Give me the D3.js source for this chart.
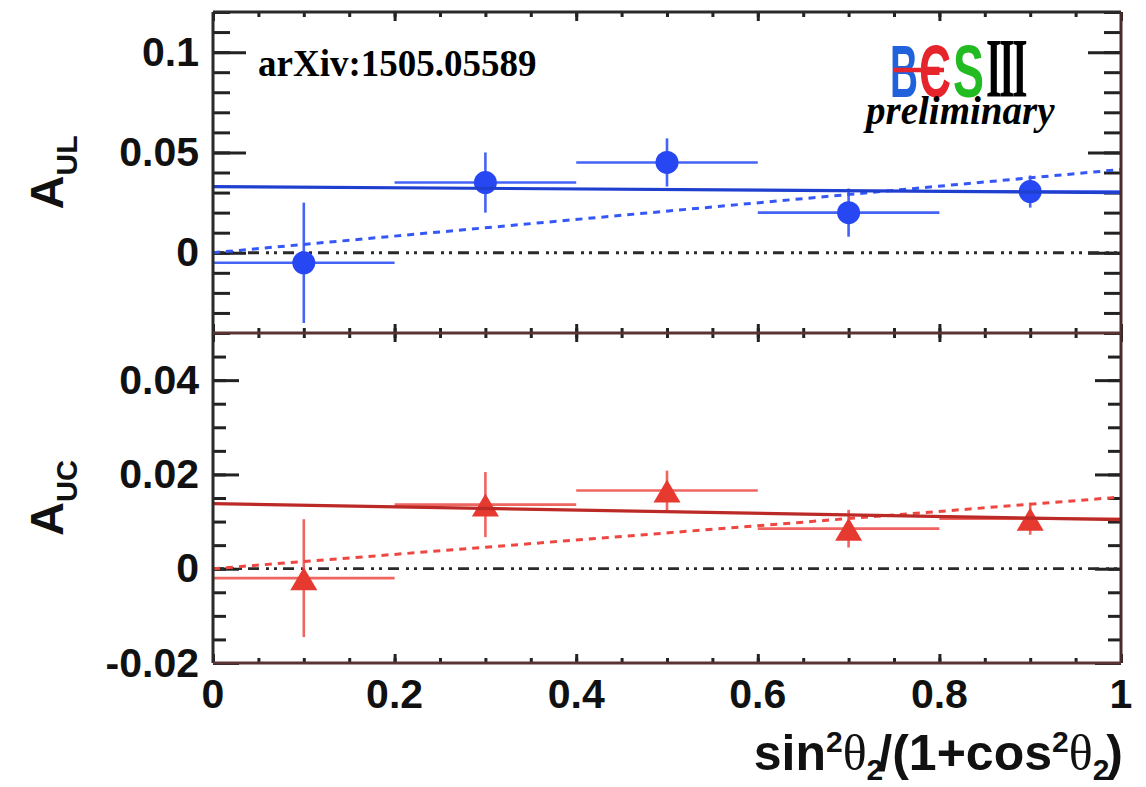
<!DOCTYPE html>
<html>
<head>
<meta charset="utf-8">
<script src="https://cdn.jsdelivr.net/npm/d3@7"></script>
<style>
  body { margin: 0; background: #fff; }
  svg { display: block; }
  text { font-family: "Liberation Sans", Arial, sans-serif; }
</style>
</head>
<body>
<div id="chart"></div>
<script>
// bin centres and half widths
var xBin = [0.1, 0.3, 0.5, 0.7, 0.9];
var xHalf = [0.1, 0.1, 0.1, 0.1, 0.1];

// A_UL (top panel)
var aUL = [-0.005, 0.035, 0.045, 0.020, 0.0305];
var aULErr = [0.030, 0.015, 0.012, 0.012, 0.008];
var fitULconst = [0.033, 0.030];   // solid, at x=0 and x=1
var fitULprop = [0.0, 0.0415];     // dashed

// A_UC (bottom panel)
var aUC = [-0.002, 0.0136, 0.0166, 0.0085, 0.0106];
var aUCErr = [0.0125, 0.0069, 0.0042, 0.004, 0.0034];
var fitUCconst = [0.0138, 0.0104];
var fitUCprop = [0.0, 0.0152];

var xEnds = [0, 1];
var xTickLabels = [0, 0.2, 0.4, 0.6, 0.8, 1];
var topTickLabels = [0, 0.05, 0.1];
var botTickLabels = [-0.02, 0, 0.02, 0.04];

var W = 1146, H = 787;
var X0 = 213, X1 = 1121;

var svg = d3.select("#chart").append("svg")
    .attr("width", W)
    .attr("height", H);

var x = d3.scaleLinear().domain([0, 1]).range([X0, X1]);

var panels = [
  { y0: 12, y1: 333, domain: [-0.04, 0.12], major: topTickLabels, minorStep: 0.01,
    majLen: 33, minLen: 17, vals: aUL, errs: aULErr, cnst: fitULconst, prop: fitULprop,
    color: "#2747f2", errColor: "#4563f6", fitColor: "#1f3fcf", dashColor: "#3657f7",
    marker: "circle", title: "A", sub: "UL", subSize: 30 },
  { y0: 333, y1: 663, domain: [-0.02, 0.05], major: botTickLabels, minorStep: 0.005,
    majLen: 26, minLen: 13, vals: aUC, errs: aUCErr, cnst: fitUCconst, prop: fitUCprop,
    color: "#e63a30", errColor: "#ef6560", fitColor: "#bb2a26", dashColor: "#ee4640",
    marker: "triangle", title: "A", sub: "UC", subSize: 29 }
];

function fmt(d) { return d === 0 ? "0" : String(d); }

panels.forEach(function(p, i) {
  var y = d3.scaleLinear().domain(p.domain).range([p.y1, p.y0]);
  var g = svg.append("g");

  var minors = d3.range(Math.ceil(p.domain[0] / p.minorStep), Math.floor(p.domain[1] / p.minorStep + 1e-6) + 1)
      .map(function(k) { return +(k * p.minorStep).toFixed(4); });

  // y minor ticks, left and right (inward)
  g.append("g").attr("transform", "translate(" + X0 + ",0)")
    .call(d3.axisLeft(y).tickValues(minors).tickSizeInner(-p.minLen).tickSizeOuter(0).tickFormat(""));
  g.append("g").attr("transform", "translate(" + X1 + ",0)")
    .call(d3.axisRight(y).tickValues(minors).tickSizeInner(-p.minLen).tickSizeOuter(0).tickFormat(""));
  // y major ticks with labels
  g.append("g").attr("class", "ylab").attr("transform", "translate(" + X0 + ",0)")
    .call(d3.axisLeft(y).tickValues(p.major).tickSizeInner(-p.majLen).tickSizeOuter(0).tickPadding(14).tickFormat(fmt));
  g.append("g").attr("transform", "translate(" + X1 + ",0)")
    .call(d3.axisRight(y).tickValues(p.major).tickSizeInner(-p.majLen).tickSizeOuter(0).tickFormat(""));

  // x ticks top and bottom of the panel (inward, short)
  var xMin = d3.range(0, 21).map(function(k) { return k * 0.05; });
  g.append("g").attr("transform", "translate(0," + p.y1 + ")")
    .call(d3.axisBottom(x).tickValues(xMin).tickSizeInner(-5).tickSizeOuter(0).tickFormat(""));
  g.append("g").attr("transform", "translate(0," + p.y1 + ")")
    .call(d3.axisBottom(x).tickValues(xTickLabels).tickSizeInner(-9).tickSizeOuter(0).tickFormat(""));
  g.append("g").attr("transform", "translate(0," + p.y0 + ")")
    .call(d3.axisTop(x).tickValues(xMin).tickSizeInner(-5).tickSizeOuter(0).tickFormat(""));
  g.append("g").attr("transform", "translate(0," + p.y0 + ")")
    .call(d3.axisTop(x).tickValues(xTickLabels).tickSizeInner(-9).tickSizeOuter(0).tickFormat(""));

  g.selectAll(".domain").remove();
  g.selectAll(".tick line").attr("stroke", "#222").attr("stroke-width", 3);
  g.selectAll(".ylab text")
    .attr("fill", "#111")
    .style("font-size", "41px")
    .style("font-weight", "bold");

  // zero line, dash-dot-dot
  g.append("line")
    .attr("x1", x(0)).attr("x2", x(1))
    .attr("y1", y(0)).attr("y2", y(0))
    .attr("stroke", "#2a2a2a").attr("stroke-width", 2.8)
    .attr("stroke-dasharray", "11,7,3,5,3,6");

  var pts = xBin.map(function(xv, j) {
    return { x: xv, xe: xHalf[j], v: p.vals[j], e: p.errs[j] };
  });

  // error bars
  var eb = g.append("g").attr("stroke", p.errColor).attr("stroke-width", 2.6);
  eb.selectAll(".h").data(pts).enter().append("line")
    .attr("x1", function(d) { return x(d.x - d.xe); })
    .attr("x2", function(d) { return x(d.x + d.xe); })
    .attr("y1", function(d) { return y(d.v); })
    .attr("y2", function(d) { return y(d.v); });
  eb.selectAll(".v").data(pts).enter().append("line")
    .attr("x1", function(d) { return x(d.x); })
    .attr("x2", function(d) { return x(d.x); })
    .attr("y1", function(d) { return y(d.v - d.e); })
    .attr("y2", function(d) { return y(d.v + d.e); });

  // markers
  if (p.marker === "circle") {
    g.selectAll(".m").data(pts).enter().append("circle")
      .attr("cx", function(d) { return x(d.x); })
      .attr("cy", function(d) { return y(d.v); })
      .attr("r", 11.5)
      .attr("fill", p.color);
  } else {
    g.selectAll(".m").data(pts).enter().append("path")
      .attr("transform", function(d) { return "translate(" + x(d.x) + "," + y(d.v) + ")"; })
      .attr("d", "M0,-11L13.5,12L-13.5,12Z")
      .attr("fill", p.color);
  }

  // fits
  var line = d3.line().x(function(d) { return x(d[0]); }).y(function(d) { return y(d[1]); });
  g.append("path")
    .attr("d", line(d3.zip(xEnds, p.prop)))
    .attr("fill", "none").attr("stroke", p.dashColor).attr("stroke-width", 3)
    .attr("stroke-dasharray", "7,6");
  g.append("path")
    .attr("d", line(d3.zip(xEnds, p.cnst)))
    .attr("fill", "none").attr("stroke", p.fitColor).attr("stroke-width", 3.2);

  // y title
  var t = svg.append("text")
    .attr("transform", "translate(63," + ((p.y0 + p.y1) / 2) + ") rotate(-90)")
    .attr("text-anchor", "middle")
    .style("font-size", "47px").style("font-weight", "bold").attr("fill", "#111");
  t.append("tspan").text(p.title);
  t.append("tspan").attr("dy", 14).style("font-size", p.subSize + "px").text(p.sub);
});

// frame
svg.append("path")
  .attr("d", "M" + X0 + ",12V663")
  .attr("stroke", "#2a2a2a").attr("stroke-width", 3).attr("fill", "none");
svg.append("path")
  .attr("d", "M" + X0 + ",12H" + X1)
  .attr("stroke", "#2a2a2a").attr("stroke-width", 3).attr("fill", "none");
svg.append("path")
  .attr("d", "M" + X1 + ",12V663")
  .attr("stroke", "#4a2c2c").attr("stroke-width", 3).attr("fill", "none");
svg.append("path")
  .attr("d", "M" + X0 + ",333H" + X1 + "M" + X0 + ",663H" + X1)
  .attr("stroke", "#5a3434").attr("stroke-width", 3).attr("fill", "none");

// x tick labels
svg.selectAll(".xl").data(xTickLabels).enter().append("text")
  .attr("x", function(d) { return x(d); })
  .attr("y", 708)
  .attr("text-anchor", "middle")
  .style("font-size", "41px").style("font-weight", "bold").attr("fill", "#111")
  .text(fmt);

// x title
var xt = svg.append("text")
  .attr("x", 1123).attr("y", 770)
  .attr("text-anchor", "end")
  .style("font-size", "50px").style("font-weight", "bold").attr("fill", "#111");
function theta(sel) {
  sel.append("tspan").attr("dy", 18)
    .style("font-family", "'Liberation Serif', serif").style("font-weight", "normal").text("θ");
}
xt.append("tspan").text("sin");
xt.append("tspan").attr("dy", -18).style("font-size", "30px").text("2");
theta(xt);
xt.append("tspan").attr("dy", 10).style("font-size", "30px").text("2");
xt.append("tspan").attr("dy", -10).attr("dx", -5).text("/(1+cos");
xt.append("tspan").attr("dy", -18).style("font-size", "30px").text("2");
theta(xt);
xt.append("tspan").attr("dy", 10).style("font-size", "30px").text("2");
xt.append("tspan").attr("dy", -10).attr("dx", -3).text(")");

// arXiv note
svg.append("text")
  .attr("x", 258).attr("y", 76)
  .style("font-family", "'Liberation Serif', 'Times New Roman', serif")
  .style("font-size", "37px").style("font-weight", "bold").attr("fill", "#000")
  .text("arXiv:1505.05589");

// BESIII logo
var logo = svg.append("g").style("font-weight", "bold");
logo.append("text").attr("x", 890).attr("y", 97).attr("textLength", 28).attr("lengthAdjust", "spacingAndGlyphs")
  .style("font-size", "75px").attr("fill", "#1f62dc").text("B");
logo.append("text").attr("x", 919).attr("y", 97).attr("textLength", 32).attr("lengthAdjust", "spacingAndGlyphs")
  .style("font-size", "75px").attr("fill", "#e5242c").text("Є");
logo.append("line").attr("x1", 894).attr("x2", 944).attr("y1", 70).attr("y2", 70)
  .attr("stroke", "#e5242c").attr("stroke-width", 4.5);
logo.append("text").attr("x", 953).attr("y", 97).attr("textLength", 31).attr("lengthAdjust", "spacingAndGlyphs")
  .style("font-size", "75px").attr("fill", "#22bb22").text("S");
logo.append("text").attr("transform", "translate(986,97) scale(1,2.1)")
  .style("font-family", "'Liberation Serif', serif").style("font-weight", "bold")
  .style("letter-spacing", "-2.5px")
  .style("font-size", "40px").attr("fill", "#000").text("III");

svg.append("text")
  .attr("x", 866).attr("y", 124)
  .style("font-family", "'Liberation Serif', 'Times New Roman', serif")
  .style("font-size", "39px").style("font-weight", "bold").style("font-style", "italic")
  .attr("fill", "#000")
  .text("preliminary");
</script>
</body>
</html>
